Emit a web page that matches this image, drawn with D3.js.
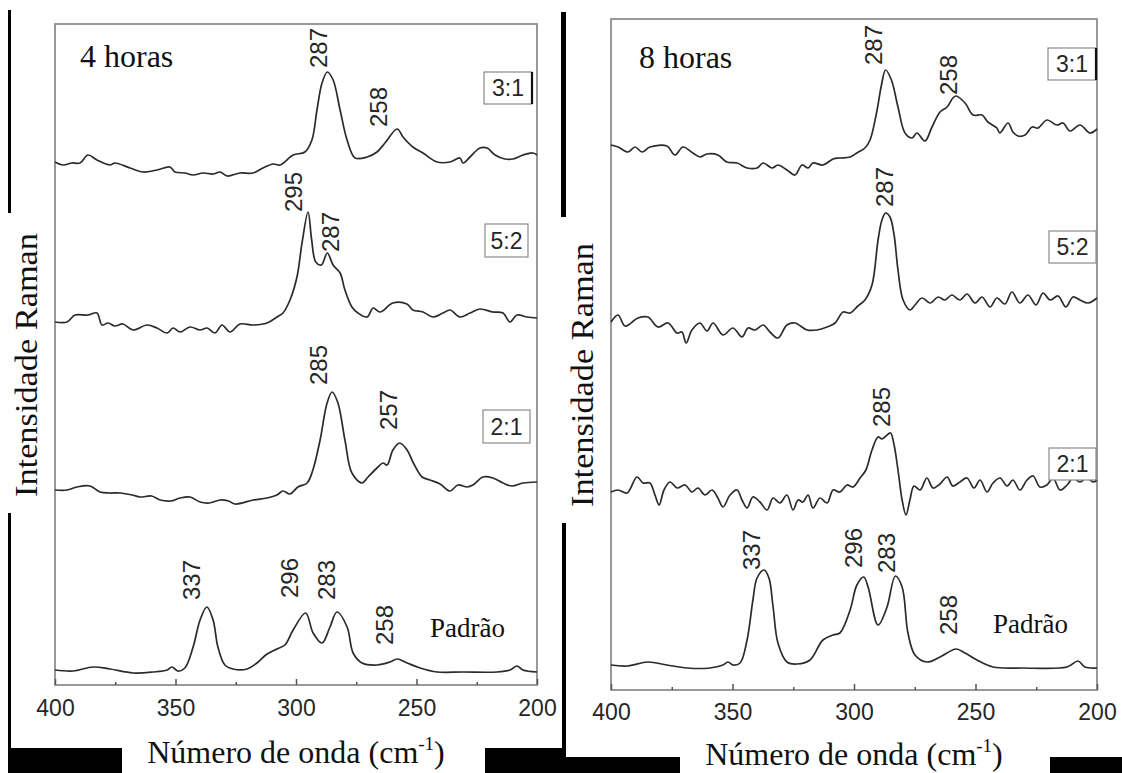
<!DOCTYPE html>
<html>
<head>
<meta charset="utf-8">
<script src="https://cdn.jsdelivr.net/npm/d3@7"></script>
<style>
  html, body { margin: 0; padding: 0; background: #fff; }
  svg { display: block; }
</style>
</head>
<body>
<script>
// Raman spectra of the samples after 4 h and 8 h, stacked with offsets.
const majorTicks = [400, 350, 300, 250, 200];
const minorTicks = [375, 325, 275, 225];
const panelTitles = ["4 horas", "8 horas"];
const sampleNames = ["3:1", "5:2", "2:1", "Padrão"];

// [wavenumber (cm-1), intensity (a.u., offset included)]
const h4_31 = [[400,52.3],[396.7,52.0],[393,52.2],[389.6,52.2],[386.3,53.0],[382.6,52.5],[377.2,52.0],[375.1,52.2],[368.9,51.7],[363.5,51.3],[357.7,51.5],[352.3,51.8],[350.2,51.3],[346.1,51.2],[342.7,51.0],[338.6,51.2],[334.4,51.1],[331.5,51.3],[328.6,50.9],[323.2,51.2],[317.8,51.2],[313.7,51.7],[309.5,52.1],[306.6,52.0],[301.2,53.0],[296.3,53.3],[293.4,54.5],[291.3,57.5],[289.2,60.2],[287,61.3],[284.6,60.5],[281.7,57.5],[278.8,54.5],[275.5,52.7],[270.5,52.8],[266.4,53.3],[263.1,54.2],[258,55.6],[255.6,54.8],[251.5,53.8],[247.3,53.2],[241.5,52.3],[236.1,52.3],[232,52.7],[230.7,52.2],[227.8,52.8],[223.7,53.7],[220.7,53.7],[217.4,53.0],[213.3,52.6],[210,52.6],[205.8,53.0],[201.7,53.2],[200,53.0]];
const h4_52 = [[400,36.3],[395,36.3],[391.7,37.0],[386.3,37.0],[382.6,37.2],[380.5,36.0],[378,36.2],[375.1,35.9],[371.8,36.1],[367.6,35.5],[361.8,36.0],[357.7,35.7],[353.5,35.2],[351,35.7],[348.1,35.3],[344,35.8],[339.8,35.5],[336.9,35.7],[333.6,35.2],[330.7,36.0],[327.4,35.3],[323.2,36.1],[317.8,36.0],[312,36.2],[307.9,36.8],[305.4,37.2],[302.5,38.5],[299.6,40.8],[297.5,44.2],[295,47.3],[293.5,44.5],[291.8,42.3],[289.5,42.0],[287,43.2],[284.6,42.0],[281.7,41.2],[279.7,39.5],[276.8,37.8],[274.3,37.2],[270.5,36.8],[268,37.7],[265.1,37.3],[259.8,38.2],[254,38.1],[251.5,37.5],[247.3,37.3],[243.2,36.8],[239,37.2],[236.1,37.5],[232,36.8],[227.8,37.2],[223.7,37.6],[218.3,37.3],[214.1,37.2],[211.2,36.3],[208.3,37.0],[204.1,36.8],[200,36.7]];
const h4_21 = [[400,19.5],[395,19.5],[390.9,19.8],[385.5,19.9],[381.3,19.3],[377.2,19.2],[373,19.2],[368,19.0],[364.7,18.8],[360,18.9],[356.4,18.5],[352,18.4],[348.1,18.7],[344,18.8],[339.8,18.3],[336,18.2],[331.5,18.5],[328,18.4],[325.3,18.1],[317.8,18.5],[312,18.7],[307.9,19.0],[305.4,19.4],[302.5,19.1],[299.2,19.8],[295.4,20.2],[293,21.5],[290,24.5],[287.1,28.2],[285,29.3],[282.6,28.2],[279.7,24.5],[276.8,21.2],[272.6,20.2],[270.1,20.8],[266.4,21.7],[263.9,22.2],[262.2,22.0],[259.8,23.5],[257,24.2],[253.9,23.5],[251.5,22.3],[247.7,20.8],[244.4,20.5],[240.2,20.1],[236.1,19.4],[232.8,20.0],[229,19.8],[226.6,20.0],[222.4,20.8],[218.3,20.7],[214.1,20.2],[210.4,19.9],[205.8,20.2],[200,20.3]];
const h4_std = [[400,1.5],[392.5,1.4],[384.2,1.8],[377.2,1.6],[367.6,1.2],[359.3,1.3],[353.5,1.5],[351.5,1.8],[349,1.4],[346.1,1.7],[342.7,3.8],[339.8,6.5],[337,7.8],[334.4,6.5],[332.4,3.8],[329.5,2.0],[326.1,1.6],[320.3,1.6],[316.2,2.2],[312,3.1],[307.9,3.6],[304.6,4.0],[301.2,5.5],[296,7.2],[292.9,5.2],[289.2,4.2],[285.9,5.8],[283,7.3],[278.8,5.8],[276.3,3.2],[272.6,2.2],[266.4,2.0],[261,2.3],[258,2.6],[253.9,2.2],[248.5,1.7],[241.5,1.3],[230.7,1.3],[216.6,1.3],[211.2,1.5],[208.3,1.9],[205.8,1.5],[200,1.3]];

const h8_31 = [[400,54.5],[397.1,54.3],[393,53.8],[390.1,54.3],[387.2,53.8],[384,54.3],[377,54.4],[373.7,53.5],[370.4,54.3],[366.3,53.7],[363.4,53.3],[360.5,53.6],[356,53.5],[352.3,52.8],[348.1,52.7],[344,52.2],[339.9,52.2],[337.4,52.7],[333.7,52.2],[331.3,52.5],[327.6,52.0],[324.3,51.5],[321.4,52.5],[318.9,52.2],[316.9,52.7],[312.8,52.5],[308.6,53.1],[305.8,53.2],[301.6,53.3],[298.8,53.7],[295.5,54.2],[293.4,55.0],[290.5,58.0],[288.7,60.5],[287,62.0],[284.6,61.0],[281.9,58.3],[279,55.7],[276.1,55.2],[274.1,55.7],[270.8,54.9],[267.9,56.3],[264.6,57.8],[261.7,58.3],[259.3,59.2],[258,59.4],[254.3,58.7],[251,57.5],[247.3,57.5],[244.9,56.8],[241.2,56.2],[240,55.7],[236.6,56.7],[234.6,55.8],[232.5,55.4],[229.6,55.5],[226.7,56.3],[224.3,56.2],[220.6,57.0],[216.5,56.5],[214,56.7],[211.1,55.9],[207,56.5],[202.9,55.7],[200,56.1]];
const h8_52 = [[400,36.8],[397.1,37.5],[394.2,36.4],[388.9,37.2],[384.8,37.3],[380.7,36.3],[376.5,36.7],[372.8,35.7],[370.8,35.8],[369.1,34.7],[366.7,36.0],[363.4,36.7],[360.5,35.9],[358,36.7],[353.9,35.5],[349.8,36.2],[346.1,35.3],[343.6,36.2],[340.7,36.0],[337.4,36.5],[334.6,35.8],[331.3,35.2],[327.6,36.5],[324.3,36.7],[319.3,36.0],[315.2,36.0],[311.1,36.3],[307.8,36.7],[304.5,37.8],[301.6,37.7],[298.4,38.4],[295.5,39.0],[292.6,40.5],[290.1,45.0],[288.5,47.0],[287,47.7],[285.2,47.3],[283.5,45.5],[281.9,42.0],[279.8,39.0],[276.9,38.0],[274.9,38.5],[272,39.2],[268.7,38.7],[265.4,39.3],[262.6,39.0],[259.7,39.5],[256.4,39.0],[253.5,39.6],[250.2,38.7],[247.3,39.3],[244,38.3],[241.2,39.2],[237.9,38.6],[235,39.8],[231.7,38.7],[228.4,39.5],[225.1,38.5],[222.2,39.7],[219.3,39.0],[216,39.4],[212.8,38.3],[209.9,39.3],[207,39.0],[203.7,38.7],[200,39.2]];
const h8_21 = [[400,19.8],[397.1,20.0],[393.4,19.7],[389.3,21.3],[386.8,20.7],[384,20.7],[381.9,19.5],[380.2,18.5],[378.2,20.0],[375.7,20.8],[372.8,20.2],[369.5,20.5],[366.7,19.8],[364.2,20.2],[361.3,19.5],[358.4,20.0],[356,19.2],[353.9,18.3],[351,19.5],[348.1,20.0],[346.1,19.0],[344,18.2],[341.6,19.3],[338.7,18.8],[335.8,18.0],[333.3,19.2],[330.5,18.7],[327.6,19.5],[325.1,18.0],[323,19.0],[321,18.8],[318.9,19.5],[316.9,18.2],[314,19.2],[311.1,18.7],[308.6,20.0],[305.8,19.8],[302.9,20.5],[300.4,20.3],[297.5,21.2],[295.1,22.0],[292.6,24.0],[290.1,25.3],[288.5,25.1],[286.8,25.4],[285,25.7],[283.5,24.5],[281.9,22.0],[280.2,19.0],[278.6,17.5],[277,19.0],[275.3,20.4],[272.8,20.0],[270,21.2],[267.5,20.2],[264.6,20.6],[261.7,21.3],[259.3,20.4],[256.4,20.8],[253.5,21.2],[250.6,20.2],[248.1,21.0],[245.3,19.8],[242.8,20.7],[239.9,21.2],[237,20.4],[234.6,21.0],[231.7,20.0],[228.8,21.0],[226.3,21.4],[223.5,20.3],[220.6,20.5],[218.1,21.2],[215.2,20.0],[212.3,20.5],[209.9,21.2],[207,20.8],[204.1,21.2],[201.6,20.8],[200,21.0]];
const h8_std = [[400,2.5],[393.4,2.4],[384.8,2.8],[377,2.5],[368.7,2.2],[359.3,2.2],[353.9,2.5],[351.9,2.8],[349.8,2.5],[346.9,2.7],[344,5.0],[341.6,9.0],[339.9,11.2],[337,12.0],[335,11.2],[333.3,8.3],[331.3,4.7],[327.6,2.8],[323.5,2.6],[318.1,3.0],[312.8,5.0],[308.6,5.5],[305.8,5.7],[301.6,8.0],[298.8,10.5],[296,11.3],[294.2,10.3],[290.1,6.5],[286.4,8.3],[283,11.4],[280.2,10.3],[277.8,5.7],[274.9,3.5],[270,2.8],[264.6,3.3],[258,4.1],[254.3,3.7],[249.4,3.0],[242.8,2.3],[230.5,2.2],[212.3,2.3],[207.8,2.9],[204.9,2.3],[200,2.2]];

// Peak positions marked on each spectrum (cm-1)
const peaks4 = [[287, 258], [295, 287], [285, 257], [337, 296, 283, 258]];
const peaks8 = [[287, 258], [287], [285], [337, 296, 283, 258]];

// ---------- layout ----------
const W = 1122, H = 773;
const panels = [
  { title: panelTitles[0], series: [h4_31, h4_52, h4_21, h4_std], peaks: peaks4,
    box: { x0: 55, x1: 537, y0: 24, y1: 685 }, yMax: 66.1,
    titlePos: [80, 67], yTitle: [37, 365], xTitleY: 763, tickPad: 15,
    nameBoxes: [[484, 72, 48, 32], [485, 224, 43, 33], [483, 410, 47, 33]],
    stdLabel: [430, 637],
    nudges: [[[0, 4], [-10, 2]], [[-6, 0], [12, 1]], [[-5, 7], [-3, 13]], [[-7, 7], [-8, 15], [-2, 12], [-4, 14]]] },
  { title: panelTitles[1], series: [h8_31, h8_52, h8_21, h8_std], peaks: peaks8,
    box: { x0: 611, x1: 1097, y0: 19, y1: 690 }, yMax: 67.1,
    titlePos: [639, 68], yTitle: [593, 375], xTitleY: 765, tickPad: 14,
    nameBoxes: [[1048, 48, 48, 32], [1049, 231, 47, 32], [1049, 448, 47, 32]],
    stdLabel: [993, 633],
    nudges: [[[-4, 5], [1, 1]], [[7, 6]], [[0, 6]], [[-4, 0], [-2, 9], [0, 3], [1, 14]]] }
];

const svg = d3.select("body").append("svg")
  .attr("width", W).attr("height", H)
  .attr("viewBox", `0 0 ${W} ${H}`);

const serif = "'Liberation Serif', 'Times New Roman', serif";
const sans = "'Liberation Sans', Arial, Helvetica, sans-serif";
const ink = "#262626";

panels.forEach(p => {
  const b = p.box;
  const x = d3.scaleLinear().domain([400, 200]).range([b.x0, b.x1]);
  const y = d3.scaleLinear().domain([0, p.yMax]).range([b.y1, b.y0]);
  const g = svg.append("g");

  // frame
  g.append("rect")
    .attr("x", b.x0).attr("y", b.y0)
    .attr("width", b.x1 - b.x0).attr("height", b.y1 - b.y0)
    .attr("fill", "none").attr("stroke", "#808080").attr("stroke-width", 1.6);

  // bottom axis, inward ticks
  const ax = g.append("g").attr("transform", `translate(0,${b.y1})`)
    .call(d3.axisBottom(x).tickValues(majorTicks).tickSize(-6).tickPadding(p.tickPad).tickFormat(d3.format("d")));
  ax.select(".domain").remove();
  ax.selectAll(".tick line").attr("stroke", "#555").attr("stroke-width", 1.5);
  ax.selectAll(".tick text").attr("font-family", sans).attr("font-size", 23).attr("fill", ink);

  const axm = g.append("g").attr("transform", `translate(0,${b.y1})`)
    .call(d3.axisBottom(x).tickValues(minorTicks).tickSize(-3).tickFormat(""));
  axm.select(".domain").remove();
  axm.selectAll(".tick line").attr("stroke", "#555").attr("stroke-width", 1.5);

  // spectra
  const line = d3.line()
    .x(d => x(d[0])).y(d => y(d[1]))
    .curve(d3.curveCatmullRom.alpha(0.5));
  p.series.forEach(s => {
    g.append("path").datum(s)
      .attr("d", line)
      .attr("fill", "none")
      .attr("stroke", "#2b2b2b")
      .attr("stroke-width", 1.7)
      .attr("stroke-linejoin", "round");
  });

  // peak labels
  p.peaks.forEach((list, si) => {
    list.forEach((wn, pi) => {
      const pt = p.series[si].find(d => d[0] === wn);
      const [dx, gap] = p.nudges[si][pi];
      const px = x(wn) + dx, py = y(pt[1]) - gap;
      g.append("text")
        .attr("transform", `translate(${px},${py}) rotate(-90)`)
        .attr("text-anchor", "start")
        .attr("font-family", sans).attr("font-size", 24)
        .attr("fill", ink)
        .text(wn);
    });
  });

  // sample name boxes
  p.nameBoxes.forEach((bx, i) => {
    g.append("rect")
      .attr("x", bx[0]).attr("y", bx[1]).attr("width", bx[2]).attr("height", bx[3])
      .attr("fill", "#fff").attr("stroke", "#8a8a8a").attr("stroke-width", 1.2);
    if (i === 0) {
      g.append("line")
        .attr("x1", bx[0] + bx[2]).attr("x2", bx[0] + bx[2])
        .attr("y1", bx[1]).attr("y2", bx[1] + bx[3])
        .attr("stroke", "#111").attr("stroke-width", 2.2);
    }
    g.append("text")
      .attr("x", bx[0] + bx[2] / 2).attr("y", bx[1] + bx[3] / 2 + 8)
      .attr("text-anchor", "middle")
      .attr("font-family", sans).attr("font-size", 23).attr("fill", ink)
      .text(sampleNames[i]);
  });

  g.append("text")
    .attr("x", p.stdLabel[0]).attr("y", p.stdLabel[1])
    .attr("font-family", serif).attr("font-size", 27).attr("fill", "#111")
    .text(sampleNames[3]);

  // panel title
  g.append("text")
    .attr("x", p.titlePos[0]).attr("y", p.titlePos[1])
    .attr("font-family", serif).attr("font-size", 32).attr("fill", "#111")
    .text(p.title);

  // axis titles
  g.append("text")
    .attr("transform", `translate(${p.yTitle[0]},${p.yTitle[1]}) rotate(-90)`)
    .attr("text-anchor", "middle")
    .attr("font-family", serif).attr("font-size", 32).attr("fill", "#111")
    .attr("textLength", 264).attr("lengthAdjust", "spacingAndGlyphs")
    .text("Intensidade Raman");

  const xt = g.append("text")
    .attr("x", (b.x0 + b.x1) / 2).attr("y", p.xTitleY)
    .attr("text-anchor", "middle")
    .attr("font-family", serif).attr("font-size", 32).attr("fill", "#111");
  xt.append("tspan").text("Número de onda (cm");
  xt.append("tspan").attr("font-size", 19).attr("dy", -13).text("-1");
  xt.append("tspan").attr("dy", 13).text(")");
});

// black edge strips of the figure sheet
const strips = [
  [8, 10, 3, 203], [8, 513, 3, 240], [8, 748, 114, 25],
  [561, 12, 5, 205], [562, 523, 4, 236], [485, 748, 81, 25], [560, 757, 120, 16],
  [1050, 757, 72, 16]
];
svg.append("g").selectAll("rect").data(strips).join("rect")
  .attr("x", d => d[0]).attr("y", d => d[1])
  .attr("width", d => d[2]).attr("height", d => d[3])
  .attr("fill", "#000");
</script>
</body>
</html>
